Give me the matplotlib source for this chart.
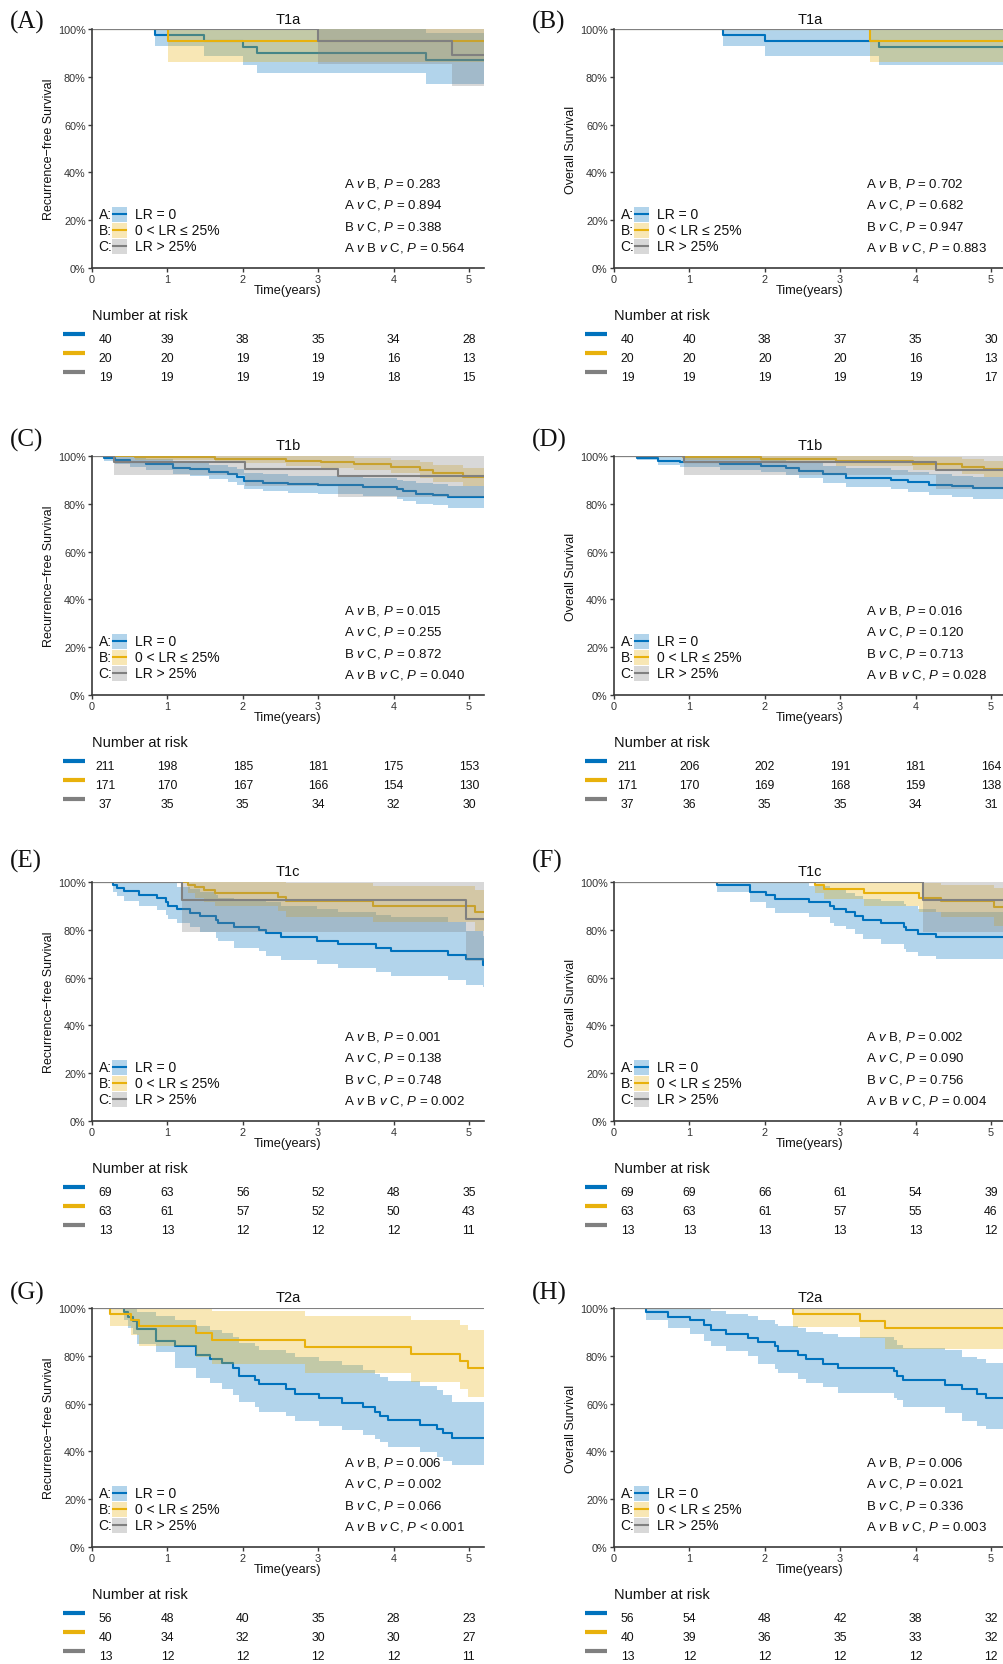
import matplotlib
matplotlib.use('Agg')
import matplotlib.pyplot as plt
from matplotlib.patches import Rectangle
from matplotlib.lines import Line2D

plt.rcParams['font.family'] = ['Liberation Sans', 'DejaVu Sans']
plt.rcParams['mathtext.fontset'] = 'custom'
plt.rcParams['mathtext.rm'] = 'Liberation Sans'
plt.rcParams['mathtext.it'] = 'Liberation Sans:italic'

# ---------------- data ----------------
groups = ['A:', 'B:', 'C:']
group_labels = ['LR = 0', '0 < LR \u2264 25%', 'LR > 25%']
risk_times = [0, 1, 2, 3, 4, 5]
titles = ['T1a', 'T1a', 'T1b', 'T1b', 'T1c', 'T1c', 'T2a', 'T2a']
panel_letters = ['(A)', '(B)', '(C)', '(D)', '(E)', '(F)', '(G)', '(H)']
ylabels = ['Recurrence\u2212free Survival', 'Overall Survival']

# Panel A  (T1a, RFS)
A_t1 = [0, 0.84, 1.49, 2.00, 2.19, 4.43]
A_s1 = [100, 97.5, 95.0, 92.5, 90.0, 87.2]
A_l1 = [100, 93.0, 88.5, 84.8, 81.5, 76.8]
A_u1 = [100, 100, 100, 100, 100, 98.5]
A_t2 = [0, 1.01]
A_s2 = [100, 95.0]
A_l2 = [100, 86.0]
A_u2 = [100, 100]
A_t3 = [0, 3.00, 4.77]
A_s3 = [100, 95.0, 89.0]
A_l3 = [100, 85.5, 76.0]
A_u3 = [100, 100, 100]
A_risk = [[40, 39, 38, 35, 34, 28], [20, 20, 19, 19, 16, 13], [19, 19, 19, 19, 18, 15]]
A_p = ['0.283', '0.894', '0.388', '= 0.564']

# Panel B  (T1a, OS)
B_t1 = [0, 1.45, 2.00, 3.52]
B_s1 = [100, 97.5, 95.0, 92.4]
B_l1 = [100, 92.9, 88.7, 84.8]
B_u1 = [100, 100, 100, 100]
B_t2 = [0, 3.39]
B_s2 = [100, 95.0]
B_l2 = [100, 86.2]
B_u2 = [100, 100]
B_t3 = [0]
B_s3 = [100]
B_l3 = [100]
B_u3 = [100]
B_risk = [[40, 40, 38, 37, 35, 30], [20, 20, 20, 20, 16, 13], [19, 19, 19, 19, 19, 17]]
B_p = ['0.702', '0.682', '0.947', '= 0.883']

# Panel C  (T1b, RFS)
C_t1 = [0, 0.16, 0.30, 0.50, 0.72, 1.07, 1.30, 1.55, 1.80, 1.92, 2.02, 2.27, 2.60, 3.00, 3.60, 4.04, 4.12, 4.30, 4.52, 4.72]
C_s1 = [100, 99.2, 98.3, 97.6, 96.5, 95.1, 94.4, 93.3, 92.3, 91.2, 89.5, 88.8, 88.1, 87.7, 87.1, 86.0, 85.2, 84.3, 83.8, 82.9]
C_l1 = [100, 97.9, 96.5, 95.5, 94.2, 92.6, 91.7, 90.4, 89.2, 87.9, 86.0, 85.2, 84.4, 83.9, 83.2, 81.9, 81.0, 80.0, 79.4, 78.3]
C_u1 = [100, 100, 100, 99.7, 98.8, 97.6, 97.1, 96.2, 95.4, 94.5, 93.0, 92.4, 91.8, 91.5, 91.0, 90.1, 89.4, 88.6, 88.2, 87.5]
C_t2 = [0, 0.57, 1.63, 2.58, 3.04, 3.48, 3.97, 4.35, 4.52, 4.92]
C_s2 = [100, 99.4, 98.8, 98.1, 97.4, 96.6, 95.6, 94.2, 92.8, 91.2]
C_l2 = [100, 98.2, 97.1, 96.0, 95.0, 94.0, 92.7, 91.0, 89.3, 87.3]
C_u2 = [100, 100, 100, 100, 99.8, 99.2, 98.5, 97.4, 96.3, 95.1]
C_t3 = [0, 0.29, 2.03, 3.26]
C_s3 = [100, 97.3, 94.6, 91.5]
C_l3 = [100, 92.1, 87.5, 83.0]
C_u3 = [100, 100, 100, 100]
C_risk = [[211, 198, 185, 181, 175, 153], [171, 170, 167, 166, 154, 130], [37, 35, 35, 34, 32, 30]]
C_p = ['0.015', '0.255', '0.872', '= 0.040']

# Panel D  (T1b, OS)
D_t1 = [0, 0.30, 0.59, 0.87, 1.40, 1.95, 2.28, 2.46, 2.77, 3.08, 3.67, 3.90, 4.18, 4.49, 4.76]
D_s1 = [100, 99.3, 98.1, 97.4, 96.6, 96.0, 94.9, 93.9, 92.4, 91.0, 90.1, 89.0, 88.0, 87.3, 86.8]
D_l1 = [100, 98.2, 96.3, 95.3, 94.2, 93.4, 92.0, 90.7, 88.9, 87.2, 86.1, 84.8, 83.6, 82.8, 82.2]
D_u1 = [100, 100, 99.9, 99.5, 99.0, 98.6, 97.8, 97.1, 95.9, 94.8, 94.1, 93.2, 92.4, 91.8, 91.4]
D_t2 = [0, 0.91, 1.95, 2.95, 3.96, 4.62, 4.91]
D_s2 = [100, 99.4, 98.8, 98.1, 96.7, 95.6, 94.6]
D_l2 = [100, 98.3, 97.1, 96.0, 94.0, 92.5, 91.2]
D_u2 = [100, 100, 100, 100, 99.4, 98.7, 98.0]
D_t3 = [0, 0.93, 4.27]
D_s3 = [100, 97.3, 94.0]
D_l3 = [100, 92.1, 86.0]
D_u3 = [100, 100, 100]
D_risk = [[211, 206, 202, 191, 181, 164], [171, 170, 169, 168, 159, 138], [37, 36, 35, 35, 34, 31]]
D_p = ['0.016', '0.120', '0.713', '= 0.028']

# Panel E  (T1c, RFS)
E_t1 = [0, 0.28, 0.33, 0.42, 0.63, 0.86, 0.98, 1.01, 1.13, 1.30, 1.43, 1.64, 1.67, 1.88, 2.21, 2.31, 2.51, 2.99, 3.26, 3.77, 3.97, 4.72, 4.96, 5.19]
E_s1 = [100, 98.6, 97.5, 96.1, 94.6, 93.2, 91.5, 90.1, 88.5, 87.0, 85.6, 84.1, 82.7, 81.3, 79.9, 78.5, 76.8, 75.4, 73.9, 72.5, 71.1, 69.3, 67.6, 65.1]
E_l1 = [100, 95.8, 94.0, 92.0, 90.0, 88.2, 86.2, 84.5, 83.0, 81.0, 79.0, 76.5, 75.5, 72.5, 71.0, 69.0, 67.5, 65.8, 64.1, 62.5, 60.8, 59.2, 57.0, 56.0]
E_u1 = [100, 100, 100, 100, 100, 100, 100, 99.5, 97.9, 97.0, 96.0, 94.4, 93.5, 93.0, 92.3, 91.5, 90.1, 88.7, 87.3, 86.0, 85.2, 83.1, 79.6, 77.5]
E_t2 = [0, 1.27, 1.36, 1.48, 1.63, 2.47, 2.58, 3.73, 5.08]
E_s2 = [100, 98.9, 97.9, 96.8, 95.4, 93.7, 92.0, 90.1, 87.6]
E_l2 = [100, 95.5, 93.5, 91.8, 89.8, 87.8, 85.5, 83.1, 79.6]
E_u2 = [100, 100, 100, 100, 100, 100, 99.5, 98.3, 96.5]
E_t3 = [0, 1.20, 4.96]
E_s3 = [100, 92.3, 84.6]
E_l3 = [100, 79.2, 67.0]
E_u3 = [100, 100, 100]
E_risk = [[69, 63, 56, 52, 48, 35], [63, 61, 57, 52, 50, 43], [13, 13, 12, 12, 12, 11]]
E_p = ['0.001', '0.138', '0.748', '= 0.002']

# Panel F  (T1c, OS)
F_t1 = [0, 1.36, 1.80, 2.02, 2.13, 2.59, 2.86, 2.92, 3.08, 3.20, 3.30, 3.54, 3.85, 3.87, 4.03, 4.27]
F_s1 = [100, 98.6, 95.8, 94.4, 93.0, 91.5, 90.1, 88.7, 87.3, 85.6, 84.1, 82.7, 81.0, 79.9, 78.2, 76.8]
F_l1 = [100, 96.0, 91.5, 89.0, 87.0, 85.2, 82.7, 81.5, 80.3, 78.2, 76.0, 74.2, 72.0, 70.7, 69.0, 67.6]
F_u1 = [100, 100, 100, 100, 99.5, 98.5, 97.5, 96.5, 95.5, 94.3, 93.0, 92.0, 90.7, 89.8, 88.5, 87.4]
F_t2 = [0, 2.66, 2.79, 3.32, 4.04, 4.34, 5.04]
F_s2 = [100, 98.6, 96.9, 95.4, 93.2, 92.0, 89.4]
F_l2 = [100, 95.4, 93.0, 90.1, 87.3, 85.2, 81.7]
F_u2 = [100, 100, 100, 100, 99.5, 98.8, 97.3]
F_t3 = [0, 4.10]
F_s3 = [100, 92.3]
F_l3 = [100, 79.2]
F_u3 = [100, 100]
F_risk = [[69, 69, 66, 61, 54, 39], [63, 63, 61, 57, 55, 46], [13, 13, 13, 13, 13, 12]]
F_p = ['0.002', '0.090', '0.756', '= 0.004']

# Panel G  (T2a, RFS)
G_t1 = [0, 0.42, 0.48, 0.54, 0.60, 0.85, 1.10, 1.38, 1.56, 1.72, 1.87, 1.95, 2.16, 2.22, 2.57, 2.69, 3.01, 3.31, 3.59, 3.75, 3.82, 3.93, 4.35, 4.57, 4.66, 4.77]
G_s1 = [100, 98.2, 96.4, 94.6, 91.3, 86.0, 84.0, 80.4, 78.7, 77.0, 75.0, 71.7, 69.7, 68.0, 66.2, 64.1, 62.2, 60.3, 58.5, 56.6, 55.0, 53.1, 51.2, 49.4, 47.7, 45.6]
G_l1 = [100, 94.8, 91.8, 89.2, 85.0, 81.5, 75.0, 70.8, 68.5, 66.2, 63.8, 60.6, 58.4, 56.6, 55.0, 52.9, 50.8, 49.0, 46.9, 45.3, 43.8, 42.0, 39.9, 37.8, 36.0, 34.3]
G_u1 = [100, 100, 100, 100, 98.5, 96.5, 95.0, 92.5, 91.0, 89.5, 87.8, 85.5, 84.0, 82.5, 81.0, 79.5, 77.8, 76.0, 74.2, 72.5, 71.0, 69.5, 67.5, 65.5, 63.5, 60.8]
G_t2 = [0, 0.235, 0.52, 0.62, 1.38, 1.59, 2.82, 4.23, 4.88, 4.99]
G_s2 = [100, 97.5, 95.0, 92.3, 89.5, 86.7, 83.6, 80.8, 78.0, 75.1]
G_l2 = [100, 92.4, 88.5, 84.0, 79.7, 76.4, 72.7, 69.2, 65.9, 62.7]
G_u2 = [100, 100, 100, 100, 100, 98.6, 96.5, 94.8, 92.7, 90.6]
G_t3 = [0]
G_s3 = [100]
G_l3 = [100]
G_u3 = [100]
G_risk = [[56, 48, 40, 35, 28, 23], [40, 34, 32, 30, 30, 27], [13, 12, 12, 12, 12, 11]]
G_p = ['0.006', '0.002', '0.066', '< 0.001']

# Panel H  (T2a, OS)
H_t1 = [0, 0.42, 0.72, 1.01, 1.20, 1.29, 1.49, 1.78, 1.91, 2.14, 2.17, 2.44, 2.55, 2.77, 2.97, 3.72, 3.76, 3.83, 4.39, 4.62, 4.81, 4.93]
H_s1 = [100, 98.2, 96.2, 94.8, 93.0, 91.0, 89.2, 87.6, 85.7, 83.9, 82.2, 80.4, 78.7, 76.6, 75.0, 73.8, 71.7, 69.7, 67.8, 65.9, 64.1, 62.2]
H_l1 = [100, 94.8, 91.7, 89.2, 86.4, 83.9, 81.8, 79.9, 76.6, 74.5, 72.7, 70.3, 68.5, 66.9, 64.5, 62.5, 61.3, 58.7, 56.1, 52.9, 50.8, 49.5]
H_u1 = [100, 100, 100, 100, 100, 98.6, 97.5, 96.5, 95.0, 93.5, 92.5, 91.5, 90.0, 89.0, 87.8, 86.5, 84.5, 83.2, 82.5, 79.6, 78.5, 77.0]
H_t2 = [0, 2.38, 3.26, 3.59]
H_s2 = [100, 97.5, 94.5, 91.7]
H_l2 = [100, 92.0, 87.4, 83.0]
H_u2 = [100, 100, 100, 100]
H_t3 = [0]
H_s3 = [100]
H_l3 = [100]
H_u3 = [100]
H_risk = [[56, 54, 48, 42, 38, 32], [40, 39, 36, 35, 33, 32], [13, 12, 12, 12, 12, 12]]
H_p = ['0.006', '0.021', '0.336', '= 0.003']

panels = [
    ([(A_t1, A_s1, A_l1, A_u1), (A_t2, A_s2, A_l2, A_u2), (A_t3, A_s3, A_l3, A_u3)], A_risk, A_p),
    ([(B_t1, B_s1, B_l1, B_u1), (B_t2, B_s2, B_l2, B_u2), (B_t3, B_s3, B_l3, B_u3)], B_risk, B_p),
    ([(C_t1, C_s1, C_l1, C_u1), (C_t2, C_s2, C_l2, C_u2), (C_t3, C_s3, C_l3, C_u3)], C_risk, C_p),
    ([(D_t1, D_s1, D_l1, D_u1), (D_t2, D_s2, D_l2, D_u2), (D_t3, D_s3, D_l3, D_u3)], D_risk, D_p),
    ([(E_t1, E_s1, E_l1, E_u1), (E_t2, E_s2, E_l2, E_u2), (E_t3, E_s3, E_l3, E_u3)], E_risk, E_p),
    ([(F_t1, F_s1, F_l1, F_u1), (F_t2, F_s2, F_l2, F_u2), (F_t3, F_s3, F_l3, F_u3)], F_risk, F_p),
    ([(G_t1, G_s1, G_l1, G_u1), (G_t2, G_s2, G_l2, G_u2), (G_t3, G_s3, G_l3, G_u3)], G_risk, G_p),
    ([(H_t1, H_s1, H_l1, H_u1), (H_t2, H_s2, H_l2, H_u2), (H_t3, H_s3, H_l3, H_u3)], H_risk, H_p),
]

# ---------------- style / layout ----------------
LINE_COLORS = ['#0072BD', '#E8B10C', '#808080']
XMAX = 5.2
W, H = 1004, 1665
AX_W, AX_H = 392, 239
COL_LEFT = [92, 614]
ROW_TOP = [30, 457, 883, 1309]
LETTER_Y = [22, 440, 861, 1293]
LETTER_X = [10, 532]
SPINE = '#3a3a3a'

fig = plt.figure(figsize=(W / 100, H / 100), dpi=100)
fig.patch.set_facecolor('white')


def px_w(v):
    return v / AX_W


def px_h(v):
    return v / AX_H


for idx, (curves, risk, pvals) in enumerate(panels):
    row, col = divmod(idx, 2)
    left, top = COL_LEFT[col], ROW_TOP[row]
    ax = fig.add_axes([left / W, 1 - (top + AX_H) / H, AX_W / W, AX_H / H])

    for g, (t, s, lo, up) in enumerate(curves):
        tt = list(t) + [XMAX]
        ss = list(s) + [s[-1]]
        ll = list(lo) + [lo[-1]]
        uu = list(up) + [up[-1]]
        ax.step(tt, ss, where='post', color=LINE_COLORS[g], lw=1.5, zorder=2 + 2 * g)
        ax.fill_between(tt, ll, uu, step='post', color=LINE_COLORS[g], alpha=0.3,
                        lw=0, zorder=3 + 2 * g)

    ax.set_xlim(0, XMAX)
    ax.set_ylim(0, 100)
    ax.set_xticks(risk_times)
    ax.set_yticks([0, 20, 40, 60, 80, 100])
    ax.set_yticklabels([f'{v}%' for v in [0, 20, 40, 60, 80, 100]])
    ax.tick_params(axis='both', labelsize=7.8, length=3, width=1, color=SPINE,
                   labelcolor='#333333', pad=1.5)
    for side in ['top', 'right']:
        ax.spines[side].set_visible(False)
    for side in ['left', 'bottom']:
        ax.spines[side].set_color(SPINE)
        ax.spines[side].set_linewidth(1.2)
        ax.spines[side].set_zorder(20)

    # title, labels
    ax.text(0.5, 1 + px_h(10.5), titles[idx], transform=ax.transAxes, ha='center',
            va='center', fontsize=10.5, color='#111111')
    ax.text(-px_w(43), 0.5, ylabels[col], transform=ax.transAxes, rotation=90,
            ha='center', va='center', fontsize=9, color='#111111')
    ax.text(0.5, -px_h(22), 'Time(years)', transform=ax.transAxes, ha='center',
            va='center', fontsize=9.2, color='#111111')

    # legend
    for g in range(3):
        yc = px_h(54 - 16 * g)
        ax.text(px_w(6.7), yc, groups[g], transform=ax.transAxes, ha='left',
                va='center', fontsize=10, color='#111111', zorder=30)
        ax.add_patch(Rectangle((px_w(20.5), yc - px_h(7.5)), px_w(15), px_h(15),
                               transform=ax.transAxes, facecolor=LINE_COLORS[g],
                               alpha=0.3, lw=0, zorder=30))
        ax.add_line(Line2D([px_w(21.5), px_w(34.5)], [yc, yc], transform=ax.transAxes,
                           color=LINE_COLORS[g], lw=1.5, zorder=31))
        ax.text(px_w(42.7), yc, group_labels[g], transform=ax.transAxes, ha='left',
                va='center', fontsize=10, color='#111111', zorder=30)

    # p-values
    p_lines = [
        r'A $\mathit{v}$ B, $\mathit{P}$ = ' + pvals[0],
        r'A $\mathit{v}$ C, $\mathit{P}$ = ' + pvals[1],
        r'B $\mathit{v}$ C, $\mathit{P}$ = ' + pvals[2],
        r'A $\mathit{v}$ B $\mathit{v}$ C, $\mathit{P}$ ' + pvals[3],
    ]
    for k, txt in enumerate(p_lines):
        ax.text(0.643, px_h(85 - 21.3 * k), txt, transform=ax.transAxes, ha='left',
                va='center', fontsize=9.5, color='#111111', zorder=30)

    # number at risk
    ax.text(0.0, -px_h(47), 'Number at risk', transform=ax.transAxes, ha='left',
            va='center', fontsize=10.5, color='#111111')
    for g in range(3):
        yr = -px_h(71 + 19 * g)
        ax.add_line(Line2D([-px_w(29), -px_w(7)], [yr + px_h(5), yr + px_h(5)],
                           transform=ax.transAxes, color=LINE_COLORS[g], lw=3,
                           clip_on=False, solid_capstyle='butt'))
        for j, n in enumerate(risk[g]):
            xpos = (risk_times[j] + 0.18) / XMAX if j == 0 else risk_times[j] / XMAX
            ax.text(xpos, yr, str(n), transform=ax.transAxes, ha='center', va='center',
                    fontsize=8.8, color='#111111')

    # panel letter
    fig.text(LETTER_X[col] / W, 1 - LETTER_Y[row] / H, panel_letters[idx],
             family=['Liberation Serif', 'DejaVu Serif'], fontsize=18, ha='left',
             va='center', color='#111111')

fig.savefig('out.png', dpi=100, facecolor='white')
